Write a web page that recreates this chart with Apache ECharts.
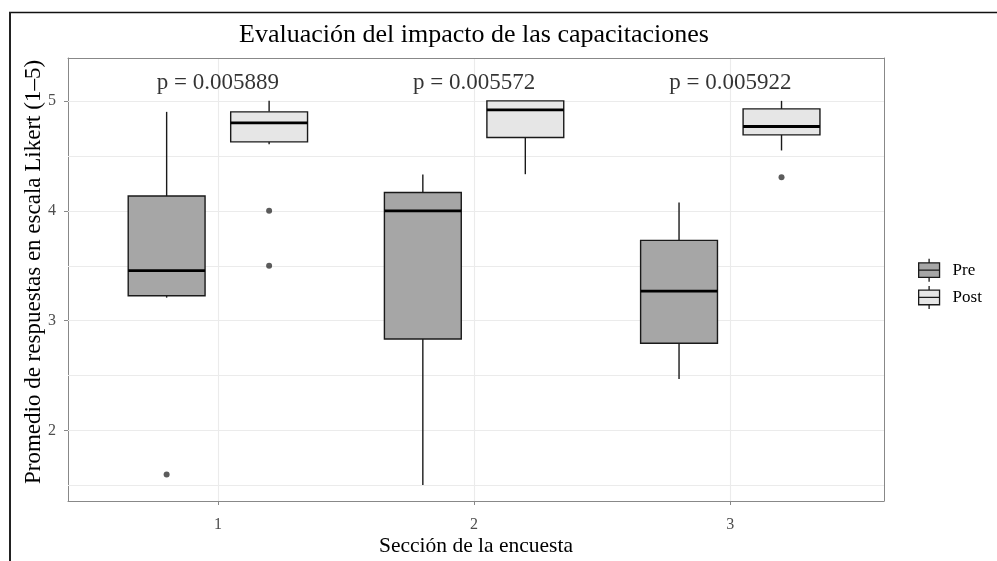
<!DOCTYPE html>
<html>
<head>
<meta charset="utf-8">
<script src="https://cdn.jsdelivr.net/npm/echarts@6/dist/echarts.min.js"></script>
<style>
html,body{margin:0;padding:0;background:#fff;}
#chart{width:997px;height:561px;}
</style>
</head>
<body>
<div id="chart"></div>
<script>
// ---- data ----
const categories = ['1', '2', '3'];
const seriesNames = ['Pre', 'Post'];
// [min, Q1, median, Q3, max] per section
const preStats = [
  [3.21, 3.227, 3.455, 4.134, 4.90],
  [1.506, 2.834, 4.0, 4.167, 4.33],
  [2.47, 2.795, 3.27, 3.731, 4.076]
];
const postStats = [
  [4.606, 4.627, 4.80, 4.90, 5.0],
  [4.333, 4.667, 4.918, 5.0, 5.0],
  [4.549, 4.691, 4.767, 4.927, 5.0]
];
// [section index, value]
const preOutliers = [[0, 1.6]];
const postOutliers = [[0, 4.0], [0, 3.5], [2, 4.306]];
const pLabels = ['p = 0.005889', 'p = 0.005572', 'p = 0.005922'];
const yTickLabels = [2, 3, 4, 5];
const yGridValues = [1.5, 2, 2.5, 3, 3.5, 4, 4.5, 5];
const xGridValues = [1, 2, 3];

// ---- layout / style constants ----
const DODGE = 0.2, BOX_W = 0.3, P_Y = 5.165;
const X_MIN = 0.415, X_MAX = 3.6, Y_MIN = 1.36, Y_MAX = 5.39;
const SERIF = "'Liberation Serif', 'DejaVu Serif', serif";
const PRE_FILL = '#A6A6A6', POST_FILL = '#E6E6E6';
const GRID_COLOR = '#EBEBEB';

function boxData(stats, off) {
  return stats.map((s, i) => [i + 1 + off].concat(s));
}
function outData(list, off) {
  return list.map(o => [o[0] + 1 + off, o[1]]);
}
function renderBox(params, api) {
  const x = api.value(0);
  const mn = api.coord([x, api.value(1)]);
  const q1 = api.coord([x, api.value(2)]);
  const md = api.coord([x, api.value(3)]);
  const q3 = api.coord([x, api.value(4)]);
  const mx = api.coord([x, api.value(5)]);
  const half = api.size([BOX_W, 0])[0] / 2;
  const fill = api.visual('color');
  const cx = mn[0];
  return {
    type: 'group',
    children: [
      {type: 'line', shape: {x1: cx, y1: mx[1], x2: cx, y2: q3[1]}, style: {stroke: '#1a1a1a', lineWidth: 1.4}},
      {type: 'line', shape: {x1: cx, y1: q1[1], x2: cx, y2: mn[1]}, style: {stroke: '#1a1a1a', lineWidth: 1.4}},
      {type: 'rect', shape: {x: cx - half, y: q3[1], width: half * 2, height: q1[1] - q3[1]},
        style: {fill: fill, stroke: '#1a1a1a', lineWidth: 1.4}},
      {type: 'line', shape: {x1: cx - half, y1: md[1], x2: cx + half, y2: md[1]}, style: {stroke: '#000', lineWidth: 2.8}}
    ]
  };
}
const legendIcon = 'path://M1,4H21V18H1ZM1,11H21M11,0V4M11,18V22';

const gridLines = yGridValues.map(v => ({yAxis: v})).concat(xGridValues.map(v => ({xAxis: v})));

const chart = echarts.init(document.getElementById('chart'));
chart.setOption({
  backgroundColor: '#fff',
  animation: false,
  title: {
    text: 'Evaluación del impacto de las capacitaciones',
    left: 474, top: 22, textAlign: 'center', padding: 0,
    textStyle: {fontFamily: SERIF, fontSize: 26, fontWeight: 'normal', color: '#000'}
  },
  legend: {
    orient: 'vertical', left: 918, top: 258, padding: 0,
    itemWidth: 23, itemHeight: 23, itemGap: 3,
    textStyle: {fontFamily: SERIF, fontSize: 17, color: '#000', padding: [0, 0, 0, 7]},
    data: [
      {name: 'Pre', icon: legendIcon, itemStyle: {color: PRE_FILL, borderColor: '#1a1a1a', borderWidth: 1.3}},
      {name: 'Post', icon: legendIcon, itemStyle: {color: POST_FILL, borderColor: '#1a1a1a', borderWidth: 1.3}}
    ]
  },
  grid: {left: 68, top: 58, width: 816, height: 443, show: false, outerBoundsMode: 'none', containLabel: false},
  xAxis: [{
    type: 'value', min: X_MIN, max: X_MAX, splitNumber: 3,
    name: 'Sección de la encuesta', nameLocation: 'middle', nameGap: 34, nameMoveOverlap: false,
    nameTextStyle: {fontFamily: SERIF, fontSize: 21.5, color: '#000'},
    axisLine: {show: true, lineStyle: {color: '#888', width: 1}},
    axisTick: {show: true, length: 4, lineStyle: {color: '#888'}, customValues: xGridValues},
    axisLabel: {fontFamily: SERIF, fontSize: 16, color: '#4D4D4D', margin: 16,
      customValues: xGridValues, formatter: v => categories[Math.round(v) - 1]},
    splitLine: {show: false}
  }, {
    type: 'value', min: X_MIN, max: X_MAX, position: 'top', z: 10,
    axisLine: {show: true, onZero: false, lineStyle: {color: '#888', width: 1}},
    axisTick: {show: false}, axisLabel: {show: false}, splitLine: {show: false}
  }],
  yAxis: [{
    type: 'value', min: Y_MIN, max: Y_MAX,
    name: 'Promedio de respuestas en escala Likert (1–5)', nameLocation: 'middle', nameGap: 23, nameMoveOverlap: false,
    nameTextStyle: {fontFamily: SERIF, fontSize: 23, color: '#000', padding: [0, 0, 0, 15]},
    axisLine: {show: true, onZero: false, lineStyle: {color: '#888', width: 1}},
    axisTick: {show: true, length: 4, lineStyle: {color: '#888'}, customValues: yTickLabels},
    axisLabel: {fontFamily: SERIF, fontSize: 16, color: '#4D4D4D', margin: 12,
      customValues: yTickLabels, formatter: v => String(Math.round(v))},
    splitLine: {show: false}
  }, {
    type: 'value', min: Y_MIN, max: Y_MAX, position: 'right', z: 10,
    axisLine: {show: true, onZero: false, lineStyle: {color: '#888', width: 1}},
    axisTick: {show: false}, axisLabel: {show: false}, splitLine: {show: false}
  }],
  series: [
    {
      name: 'Pre', type: 'custom', renderItem: renderBox,
      itemStyle: {color: PRE_FILL}, encode: {x: 0, y: [1, 2, 3, 4, 5]},
      data: boxData(preStats, -DODGE), z: 3
    },
    {
      name: 'Post', type: 'custom', renderItem: renderBox,
      itemStyle: {color: POST_FILL}, encode: {x: 0, y: [1, 2, 3, 4, 5]},
      data: boxData(postStats, DODGE), z: 3
    },
    {
      name: 'Pre outliers', type: 'scatter', symbolSize: 6,
      itemStyle: {color: '#333'}, data: outData(preOutliers, -DODGE), z: 4
    },
    {
      name: 'Post outliers', type: 'scatter', symbolSize: 6,
      itemStyle: {color: '#333'}, data: outData(postOutliers, DODGE), z: 4
    },
    {
      name: 'pvalues', type: 'scatter', symbolSize: 0, silent: true, z: 2,
      data: pLabels.map((t, i) => ({name: t, value: [i + 1, P_Y]})),
      label: {show: true, position: 'inside', formatter: p => p.name,
        fontFamily: SERIF, fontSize: 23, color: '#000'},
      markLine: {
        silent: true, z: 1, symbol: ['none', 'none'], animation: false,
        label: {show: false},
        lineStyle: {color: GRID_COLOR, width: 1.1, type: 'solid'},
        emphasis: {disabled: true},
        data: gridLines
      }
    }
  ],
  graphic: [
    {type: 'line', shape: {x1: 9, y1: 12.5, x2: 997, y2: 12.5}, style: {stroke: '#111', lineWidth: 1.6}},
    {type: 'line', shape: {x1: 10, y1: 12, x2: 10, y2: 561}, style: {stroke: '#222', lineWidth: 2}}
  ]
});
</script>
</body>
</html>
